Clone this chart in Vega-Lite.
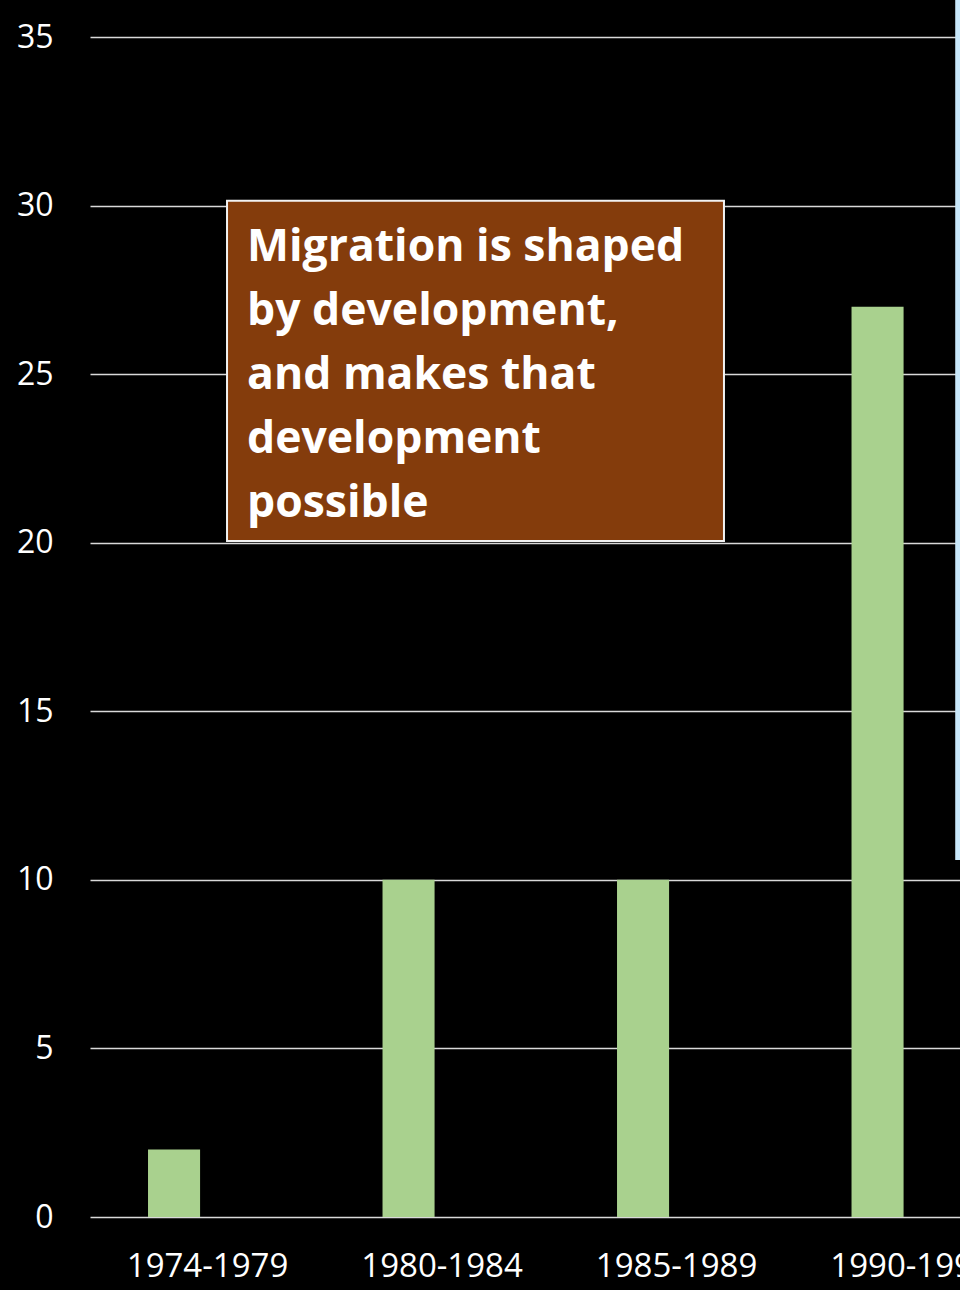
{
  "$schema": "https://vega.github.io/schema/vega-lite/v6.json",
  "autosize": {"type": "none"},
  "padding": {"left": 90, "top": 37, "right": 0, "bottom": 73},
  "width": 870,
  "height": 1180,
  "background": "#000000",
  "config": {
    "view": {"stroke": null},
    "font": "Open Sans"
  },
  "resolve": {"scale": {"x": "independent"}, "axis": {"x": "independent"}},
  "layer": [
    {
      "data": {
        "values": [
          {"period": "1974-1979", "value": 2},
          {"period": "1980-1984", "value": 10},
          {"period": "1985-1989", "value": 10},
          {"period": "1990-1994", "value": 27}
        ]
      },
      "mark": {"type": "bar", "color": "#A9D18E"},
      "encoding": {
        "x": {
          "field": "period",
          "type": "nominal",
          "sort": null,
          "scale": {"paddingInner": 0.778, "paddingOuter": 0.244, "align": 0.507},
          "axis": {
            "title": null,
            "labelAngle": 0,
            "labelOffset": 33.5,
            "domain": false,
            "ticks": false,
            "grid": false,
            "labelColor": "#ffffff",
            "labelFont": "Open Sans",
            "labelFontSize": 33,
            "labelPadding": 33,
            "labelOverlap": false
          }
        },
        "y": {
          "field": "value",
          "type": "quantitative",
          "scale": {"domain": [0, 35], "nice": false},
          "axis": {
            "title": null,
            "values": [0, 5, 10, 15, 20, 25, 30, 35],
            "grid": true,
            "gridColor": "#d9d9d9",
            "gridWidth": 1.5,
            "domain": false,
            "ticks": false,
            "labelColor": "#ffffff",
            "labelFont": "Open Sans",
            "labelFontSize": 32,
            "labelPadding": 37
          }
        }
      }
    },
    {
      "data": {"values": [{"note": "annotation"}]},
      "layer": [
        {
          "mark": {"type": "rect", "color": "#843C0C", "stroke": "#f2f2f2", "strokeWidth": 2},
          "encoding": {
            "x": {"datum": 15.75, "type": "quantitative", "scale": {"domain": [0, 100], "nice": false, "zero": false}, "axis": null},
            "x2": {"datum": 72.87},
            "y": {"datum": 30.14, "type": "quantitative", "scale": {"domain": [0, 35], "nice": false}},
            "y2": {"datum": 20.05}
          }
        },
        {
          "mark": {
            "type": "text",
            "text": "Migration is shaped\nby development,\nand makes that\ndevelopment\npossible",
            "lineBreak": "\n",
            "lineHeight": 64,
            "align": "left",
            "baseline": "alphabetic",
            "font": "Open Sans",
            "fontWeight": "bold",
            "fontSize": 44.5,
            "color": "#ffffff"
          },
          "encoding": {
            "x": {"datum": 18.05, "type": "quantitative", "scale": {"domain": [0, 100], "nice": false, "zero": false}, "axis": null},
            "y": {"datum": 28.36, "type": "quantitative", "scale": {"domain": [0, 35], "nice": false}}
          }
        },
        {
          "mark": {"type": "rect", "color": "#c9e8fb"},
          "encoding": {
            "x": {"datum": 99.45, "type": "quantitative", "scale": {"domain": [0, 100], "nice": false, "zero": false}, "axis": null},
            "x2": {"datum": 101},
            "y": {"datum": 36.2, "type": "quantitative", "scale": {"domain": [0, 35], "nice": false}},
            "y2": {"datum": 10.59}
          }
        }
      ]
    }
  ]
}
